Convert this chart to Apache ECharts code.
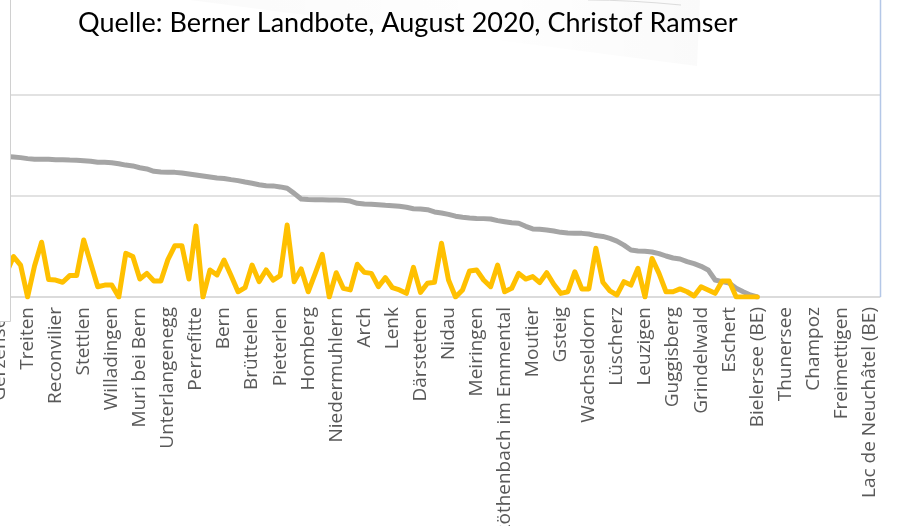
<!DOCTYPE html>
<html>
<head>
<meta charset="utf-8">
<script src="https://cdn.jsdelivr.net/npm/echarts@6/dist/echarts.min.js"></script>
<style>
  html, body { margin: 0; padding: 0; background: #fff; }
  #chart { width: 897px; height: 526px; }
</style>
</head>
<body>
<div id="chart"></div>
<script>
// labelled municipalities (every 4th category on the axis)
const labelNames = [
  'Gerzensee', 'Treiten', 'Reconvilier', 'Stettlen', 'Willadingen', 'Muri bei Bern',
  'Unterlangenegg', 'Perrefitte', 'Bern', 'Brüttelen', 'Pieterlen', 'Homberg',
  'Niedermuhlern', 'Arch', 'Lenk', 'Därstetten', 'Nidau', 'Meiringen',
  'Röthenbach im Emmental', 'Moutier', 'Gsteig', 'Wachseldorn', 'Lüscherz', 'Leuzigen',
  'Guggisberg', 'Grindelwald', 'Eschert', 'Bielersee (BE)', 'Thunersee', 'Champoz',
  'Freimettigen', 'Lac de Neuchâtel (BE)'
]
const labelStep = 4
const totalCategories = 126

// grey series (sorted, descending)
const greyValues = [
  70.0, 69.6, 69.3, 69.0, 68.5, 68.2, 68.2, 68.2, 68.0, 68.0,
  67.8, 67.7, 67.5, 67.2, 66.7, 66.7, 66.5, 66.0, 65.3, 64.9,
  64.0, 63.4, 62.2, 61.9, 61.7, 61.7, 61.4, 60.9, 60.4, 59.9,
  59.4, 58.9, 58.7, 58.1, 57.6, 56.9, 56.3, 55.6, 55.1, 55.0,
  54.5, 53.8, 51.3, 48.5, 48.3, 48.2, 48.2, 48.0, 48.0, 47.9,
  47.5, 46.4, 46.0, 45.9, 45.7, 45.4, 45.2, 44.9, 44.4, 43.7,
  43.6, 43.2, 42.1, 41.6, 40.9, 40.0, 39.5, 39.1, 38.9, 38.8,
  38.6, 37.8, 37.3, 36.8, 36.5, 35.0, 33.7, 33.5, 33.2, 32.7,
  32.0, 31.7, 31.5, 31.5, 31.2, 30.4, 30.0, 29.0, 27.7, 25.7,
  23.3, 22.8, 22.6, 22.3, 21.5, 20.3, 19.3, 18.8, 17.5, 16.5,
  15.2, 13.4, 8.4, 7.6, 6.9, 4.3, 2.6, 1.0, 0
]

// yellow series
const yellowValues = [
  15, 12, 20.0, 15.8, 0, 15.5, 27.1, 8.7, 8.4, 7.3,
  10.6, 10.6, 28.2, 16.7, 5.1, 5.9, 5.9, 0, 21.6, 20.0,
  8.9, 11.7, 7.9, 7.9, 18.5, 25.4, 25.4, 8.9, 35.1, 0,
  13.4, 10.9, 18.3, 10.6, 2.6, 4.6, 15.8, 7.6, 13.4, 8.4,
  10.6, 35.6, 7.6, 13.9, 2.6, 11.7, 21.1, 0, 12.0, 4.3,
  3.5, 16.2, 12.2, 11.7, 5.1, 9.6, 4.6, 3.5, 1.8, 14.7,
  2.3, 6.8, 7.3, 26.6, 8.4, 0, 3.5, 12.9, 13.4, 8.4,
  5.1, 15.8, 2.6, 4.3, 11.7, 8.9, 10.1, 7.1, 12.0, 6.3,
  1.8, 2.6, 12.5, 4.0, 4.0, 24.1, 7.3, 3.0, 1.0, 7.6,
  5.9, 14.2, 0, 19.1, 11.7, 2.6, 2.6, 4.0, 2.6, 0.5,
  5.1, 3.5, 1.8, 7.9, 7.9, 0, 0, 0, 0
]

const categories = []
for (let i = 0; i < totalCategories; i++) {
  categories.push(i % labelStep === 0 ? (labelNames[i / labelStep] || '') : '')
}

const chart = echarts.init(document.getElementById('chart'), null, { renderer: 'canvas' })

chart.setOption({
  animation: false,
  backgroundColor: '#fff',
  title: {
    text: 'Quelle: Berner Landbote, August 2020, Christof Ramser',
    left: 73,
    top: 5,
    z: 20,
    textStyle: { fontFamily: 'Lato', fontSize: 27, fontWeight: 'normal', color: '#000' },
  },
  grid: {
    left: -4,
    right: 17,
    top: 95,
    bottom: 229,
    outerBoundsMode: 'none',
  },
  xAxis: {
    type: 'category',
    data: categories,
    boundaryGap: true,
    axisLine: { lineStyle: { color: '#D9D9D9', width: 1.5 } },
    axisTick: { show: false },
    axisLabel: {
      interval: 0,
      rotate: 90,
      margin: 10,
      color: '#595959',
      fontFamily: 'Open Sans',
      fontSize: 19,
    },
    splitLine: { show: false },
  },
  yAxis: {
    type: 'value',
    min: 0,
    max: 100,
    interval: 50,
    axisLine: { show: false },
    axisTick: { show: false },
    axisLabel: { show: false },
    splitLine: { lineStyle: { color: '#D9D9D9', width: 1.5 } },
  },
  series: [
    {
      name: 'grau',
      type: 'line',
      data: greyValues,
      showSymbol: false,
      lineStyle: { color: '#A5A5A5', width: 5, cap: 'round', join: 'round' },
    },
    {
      name: 'gelb',
      type: 'line',
      data: yellowValues,
      showSymbol: false,
      lineStyle: { color: '#FFC000', width: 5, cap: 'round', join: 'round' },
    },
  ],
  graphic: [
    // faint shadow of a shape sitting behind the title
    {
      type: 'polygon',
      z: -1,
      shape: { points: [[190, 0], [700, 0], [697, 66]] },
      style: {
        fill: {
          type: 'linear', x: 0, y: 0, x2: 1, y2: 0,
          colorStops: [
            { offset: 0, color: 'rgba(0,0,0,0.02)' },
            { offset: 0.6, color: 'rgba(0,0,0,0.004)' },
            { offset: 1, color: 'rgba(0,0,0,0.018)' },
          ],
        },
      },
    },
    {
      type: 'bezierCurve',
      z: -1,
      shape: { x1: 588, y1: 0, x2: 681, y2: 5, cpx1: 630, cpy1: 0 },
      style: { stroke: '#DCDCDC', lineWidth: 1, fill: null },
    },
    {
      type: 'rect',
      z: 100,
      shape: { x: -2, y: -2, width: 12.5, height: 323.5 },
      style: { fill: '#fff', stroke: '#D0D0D0', lineWidth: 1 },
    },
    {
      type: 'line',
      z: 100,
      shape: { x1: 880.5, y1: 0, x2: 880.5, y2: 297 },
      style: { stroke: '#B4C7E7', lineWidth: 1.5 },
    },
  ],
})
</script>
</body>
</html>
